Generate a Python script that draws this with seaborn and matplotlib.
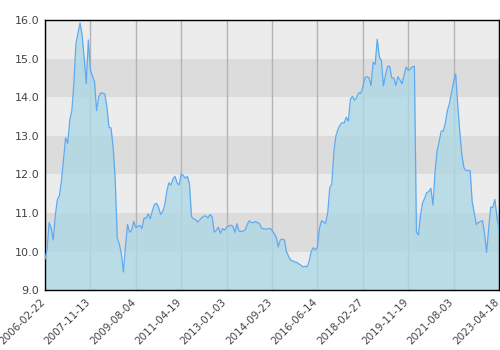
import matplotlib
matplotlib.use("Agg")
import matplotlib.pyplot as plt
import matplotlib.transforms as mtransforms
import seaborn as sns
import numpy as np
import pandas as pd

values = [
    9.8, 10.05, 10.75, 10.6, 10.3, 10.94, 11.35, 11.45, 11.85, 12.4,
    12.95, 12.8, 13.4, 13.65, 14.35, 15.4, 15.66, 15.92, 15.6, 15.0,
    14.35, 15.48, 14.7, 14.55, 14.4, 13.65, 14.0, 14.11, 14.1, 14.08,
    13.75, 13.22, 13.2, 12.7, 11.9, 10.35, 10.2, 9.95, 9.47, 10.15,
    10.7, 10.5, 10.55, 10.78, 10.62, 10.65, 10.68, 10.6, 10.87, 10.86,
    10.98, 10.85, 11.05, 11.22, 11.25, 11.15, 10.96, 11.04, 11.2, 11.55,
    11.78, 11.72, 11.88, 11.95, 11.78, 11.72, 12.01, 11.97, 11.9, 11.95,
    11.75, 10.91, 10.84, 10.83, 10.76, 10.82, 10.88, 10.92, 10.92, 10.87,
    10.96, 10.9, 10.5, 10.55, 10.63, 10.47, 10.6, 10.55, 10.63, 10.66,
    10.68, 10.66, 10.5, 10.72, 10.53, 10.52, 10.53, 10.56, 10.7, 10.8,
    10.75, 10.75, 10.78, 10.75, 10.72, 10.6, 10.59, 10.58, 10.59, 10.6,
    10.55, 10.47, 10.38, 10.12, 10.3, 10.32, 10.3, 10.0, 9.88, 9.78,
    9.76, 9.73, 9.72, 9.68, 9.65, 9.6, 9.62, 9.6, 9.75, 10.0,
    10.1, 10.04, 10.1, 10.6, 10.8, 10.76, 10.73, 11.0, 11.66, 11.75,
    12.6, 13.0, 13.17, 13.28, 13.34, 13.33, 13.48, 13.38, 13.95, 14.02,
    13.92, 13.99, 14.11, 14.1, 14.26, 14.5, 14.53, 14.5, 14.3, 14.9,
    14.85, 15.5, 15.05, 14.95, 14.29, 14.57, 14.8, 14.8, 14.5, 14.5,
    14.3, 14.53, 14.45, 14.35, 14.57, 14.78, 14.7, 14.72, 14.79, 14.8,
    10.5, 10.43, 10.95, 11.27, 11.38, 11.53, 11.55, 11.64, 11.2, 12.05,
    12.6, 12.85, 13.12, 13.12, 13.33, 13.65, 13.84, 14.12, 14.4, 14.6,
    13.8, 13.1, 12.5, 12.17, 12.1, 12.1, 12.1, 11.3, 11.0, 10.7,
    10.75, 10.78, 10.8, 10.45, 9.98, 10.6, 11.15, 11.14, 11.35, 10.9,
    10.6,
]

tick_labels = [
    "2006-02-22", "2007-11-13", "2009-08-04", "2011-04-19", "2013-01-03",
    "2014-09-23", "2016-06-14", "2018-02-27", "2019-11-19", "2021-08-03",
    "2023-04-18",
]
y_ticks = [9.0, 10.0, 11.0, 12.0, 13.0, 14.0, 15.0, 16.0]

df = pd.DataFrame({"idx": np.arange(len(values)), "value": values})
n = len(values)
tick_step = (n - 1) // (len(tick_labels) - 1)
tick_pos = [i * tick_step for i in range(len(tick_labels))]

sns.set_style("white")
fig = plt.figure(figsize=(5, 3.5), dpi=100)
ax = fig.add_axes([0.09, 0.171, 0.908, 0.772])

# alternating background bands
for k, lo in enumerate(y_ticks[:-1]):
    col = "#dcdcdc" if k % 2 == 1 else "#ececec"
    ax.axhspan(lo, lo + 1, color=col, lw=0, zorder=0)

for p in tick_pos:
    ax.axvline(p, color="#b4b4b4", lw=1.0, zorder=1)

ax.fill_between(df["idx"], 9.0, df["value"], color="#add8e6", alpha=0.8,
                lw=0, zorder=2)
sns.lineplot(data=df, x="idx", y="value", ax=ax, color="#5eaaf2",
             lw=0.9, zorder=3)

ax.set_xlim(0, n - 1)
ax.set_ylim(9, 16)
ax.set_yticks(y_ticks)
ax.set_yticklabels([f"{v:.1f}" for v in y_ticks], fontsize=8, color="#444444")
ax.set_xticks(tick_pos)
ax.set_xticklabels(tick_labels, rotation=45, ha="right", rotation_mode="anchor",
                   fontsize=7.5, color="#444444")
ax.tick_params(axis="both", length=0, pad=4)
offset = mtransforms.ScaledTranslation(-5 / 100, -1 / 100, fig.dpi_scale_trans)
for lab in ax.get_xticklabels():
    lab.set_transform(lab.get_transform() + offset)
ax.set_xlabel("")
ax.set_ylabel("")
for s in ax.spines.values():
    s.set_color("black")
    s.set_linewidth(1.0)
    s.set_visible(True)

fig.savefig("out.png", dpi=100)
